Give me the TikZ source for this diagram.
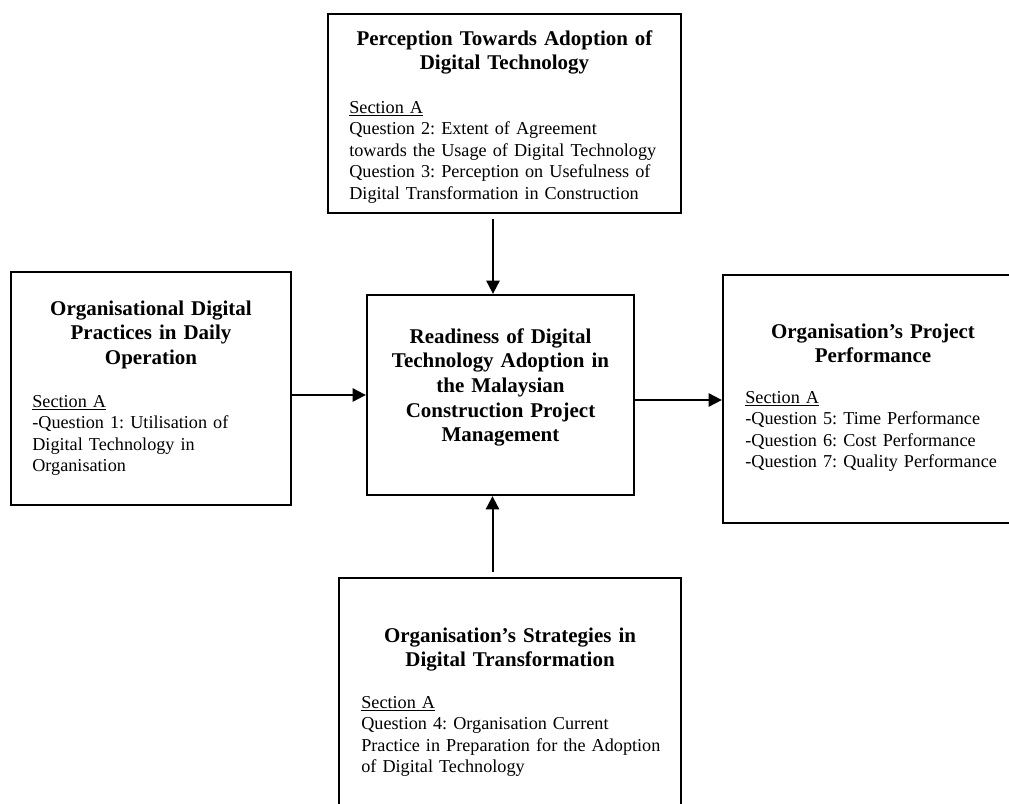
\documentclass[tikz,border=0pt]{standalone}
\usepackage{fontspec}
\setmainfont{Liberation Serif}
\usepackage{tikz}
\usetikzlibrary{arrows.meta}
\newlength{\pxu}
\setlength{\pxu}{0.6486pt}
\frenchspacing

\tikzset{
    frame/.style={draw, line width=1.5pt, inner sep=0pt},
    heading/.style={font=\fontsize{13.6pt}{16pt}\selectfont\bfseries,
                    align=center, inner sep=0pt, anchor=base},
    detail/.style={font=\fontsize{11.8pt}{13.95pt}\selectfont,
                   align=left, inner sep=0pt, anchor=base west},
    link/.style={line width=1.3pt, -{Triangle[length=8.5pt, width=8.5pt]}}
}

\begin{document}
\begin{tikzpicture}[x=\pxu, y=-\pxu]
    \useasboundingbox (0,0) rectangle (1009,804);

    % boxes
    \node[frame, minimum width=353\pxu, minimum height=199\pxu] (perception) at (504.5,113.5) {};
    \node[frame, minimum width=280\pxu, minimum height=233\pxu] (practices) at (151,388.5) {};
    \node[frame, minimum width=267\pxu, minimum height=200\pxu] (readiness) at (500.5,395) {};
    \node[frame, minimum width=300\pxu, minimum height=248\pxu] (performance) at (873,399) {};
    \node[frame, minimum width=342\pxu, minimum height=252\pxu] (strategies) at (510,704) {};

    % texts
    \node[heading, text width=353\pxu] (perceptionhead) at (504.5,45) {%
      Perception Towards Adoption of\\Digital Technology};
    \node[detail, text width=320\pxu] (perceptionbody) at (349,113) {%
      \underline{Section A}\\
      Question 2: Extent of Agreement\\
      towards the Usage of Digital Technology\\
      Question 3: Perception on Usefulness of\\
      Digital Transformation in Construction};

    \node[heading, text width=280\pxu] (practiceshead) at (151,315) {%
      Organisational Digital\\Practices in Daily\\Operation};
    \node[detail, text width=250\pxu] (practicesbody) at (32,407) {%
      \underline{Section A}\\
      -Question 1: Utilisation of\\
      Digital Technology in\\
      Organisation};

    \node[heading, text width=267\pxu] (readinesshead) at (500.5,343) {%
      Readiness of Digital\\Technology Adoption in\\the Malaysian\\
      Construction Project\\Management};

    \node[heading, text width=300\pxu] (performancehead) at (873,338) {%
      Organisation's Project\\Performance};
    \node[detail, text width=270\pxu] (performancebody) at (745,403) {%
      \underline{Section A}\\
      -Question 5: Time Performance\\
      -Question 6: Cost Performance\\
      -Question 7: Quality Performance};

    \node[heading, text width=342\pxu] (strategieshead) at (510,642) {%
      Organisation's Strategies in\\Digital Transformation};
    \node[detail, text width=310\pxu] (strategiesbody) at (361,708) {%
      \underline{Section A}\\
      Question 4: Organisation Current\\
      Practice in Preparation for the Adoption\\
      of Digital Technology};

    % arrows
    \draw[link, shorten <=5\pxu] ([xshift=-7.5\pxu]readiness.north |- perception.south)
      -- ([xshift=-7.5\pxu]readiness.north);
    \draw[link] (practices.east |- readiness.west) -- (readiness.west);
    \draw[link] ([yshift=-5\pxu]readiness.east)
      -- ([yshift=-5\pxu]readiness.east -| performance.west);
    \draw[link, shorten <=5\pxu] ([xshift=-8\pxu]readiness.south |- strategies.north)
      -- ([xshift=-8\pxu]readiness.south);
\end{tikzpicture}
\end{document}
